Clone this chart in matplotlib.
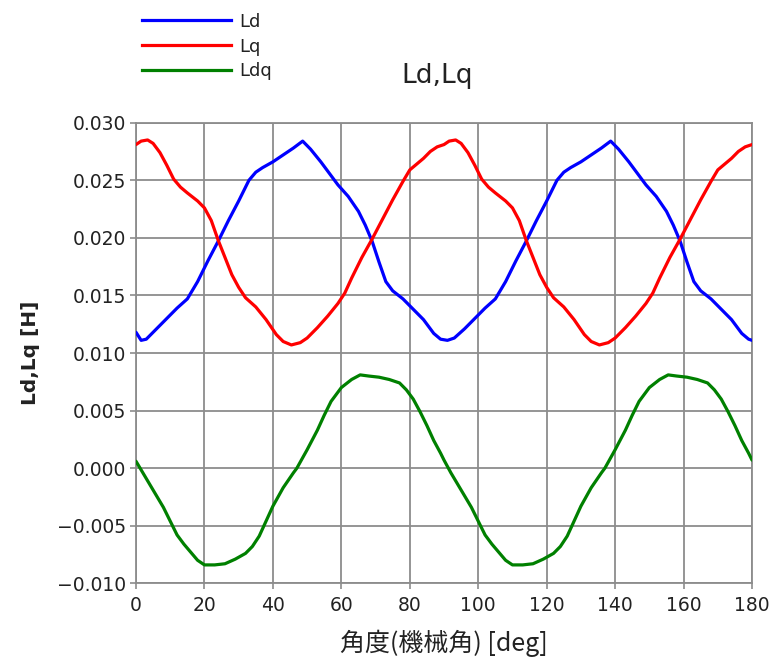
import matplotlib
matplotlib.use("Agg")
import matplotlib.pyplot as plt
from matplotlib.lines import Line2D

plt.rcParams['font.family'] = ['DejaVu Sans', 'Noto Sans CJK JP']

# ---- data ----
ld_deg = [0, 1.5, 3, 6, 9, 12, 15, 18, 21, 24, 27, 30, 33, 35, 37, 40, 43, 46, 48.7, 51, 54, 57, 59, 62,
          65, 67, 69, 71, 73, 75, 78, 81, 84, 87, 89,
          91, 93, 96, 99, 102, 105, 108, 111, 114, 117, 120, 123, 125, 127, 130, 133, 136, 138.7, 141,
          144, 147, 149, 152, 155, 157, 159, 161, 163, 165, 168, 171, 174, 177, 179, 180]
ld_val = [0.0118, 0.0111, 0.0112, 0.0121, 0.0130, 0.0139, 0.0147, 0.0162, 0.0180, 0.0197, 0.0215, 0.0232,
          0.0250, 0.0257, 0.0261, 0.0266, 0.0272, 0.0278, 0.0284, 0.0277, 0.0266, 0.0254, 0.0246, 0.0236,
          0.0223, 0.0211, 0.0197, 0.0179, 0.0162, 0.0154, 0.0147, 0.0138, 0.0129, 0.0117, 0.0112,
          0.0111, 0.0113, 0.0121, 0.0130, 0.0139, 0.0147, 0.0162, 0.0180, 0.0197, 0.0215, 0.0232, 0.0250,
          0.0257, 0.0261, 0.0266, 0.0272, 0.0278, 0.0284, 0.0277, 0.0266, 0.0254, 0.0246, 0.0236, 0.0223,
          0.0211, 0.0197, 0.0179, 0.0162, 0.0154, 0.0147, 0.0138, 0.0129, 0.0117, 0.0112, 0.0111]

lq_deg = [0, 1.5, 3.4, 5, 7, 9, 11, 13, 15, 18, 20, 22, 24, 26, 28, 30, 32, 35, 38, 41, 43, 45.4, 48, 50,
          53, 56, 59, 61, 63, 66, 69, 72, 75, 78, 80, 82, 84, 86, 88, 90,
          91.5, 93.4, 95, 97, 99, 101, 103, 105, 108, 110, 112, 114, 116, 118, 120, 122, 125, 128, 131,
          133, 135.4, 138, 140, 143, 146, 149, 151, 153, 156, 159, 162, 165, 168, 170, 172, 174, 176,
          178, 180]
lq_val = [0.0281, 0.0284, 0.0285, 0.0282, 0.0274, 0.0263, 0.0251, 0.0244, 0.0239, 0.0232, 0.0226, 0.0215,
          0.0198, 0.0183, 0.0168, 0.0157, 0.0148, 0.0140, 0.0129, 0.0116, 0.0110, 0.0107, 0.0109, 0.0113,
          0.0122, 0.0132, 0.0143, 0.0152, 0.0165, 0.0183, 0.0199, 0.0216, 0.0233, 0.0249, 0.0259, 0.0264,
          0.0269, 0.0275, 0.0279, 0.0281,
          0.0284, 0.0285, 0.0282, 0.0274, 0.0263, 0.0251, 0.0244, 0.0239, 0.0232, 0.0226, 0.0215, 0.0198,
          0.0183, 0.0168, 0.0157, 0.0148, 0.0140, 0.0129, 0.0116, 0.0110, 0.0107, 0.0109, 0.0113, 0.0122,
          0.0132, 0.0143, 0.0152, 0.0165, 0.0183, 0.0199, 0.0216, 0.0233, 0.0249, 0.0259, 0.0264, 0.0269,
          0.0275, 0.0279, 0.0281]

ldq_deg = [0, 2, 4, 6, 8, 10, 12, 14, 16, 18, 20, 23, 26, 29, 32, 34, 36, 38, 40, 43, 46, 47, 50, 53, 55,
           57, 60, 63, 65.5, 68, 71, 74, 77, 79, 81, 83, 85, 87, 89, 90,
           92, 94, 96, 98, 100, 102, 104, 106, 108, 110, 113, 116, 119, 122, 124, 126, 128, 130, 133, 136,
           137, 140, 143, 145, 147, 150, 153, 155.5, 158, 161, 164, 167, 169, 171, 173, 175, 177, 179, 180]
ldq_val = [0.0006, -0.0004, -0.0014, -0.0024, -0.0034, -0.0046, -0.0058, -0.0066, -0.0073, -0.0080,
           -0.0084, -0.0084, -0.0083, -0.0079, -0.0074, -0.0068, -0.0059, -0.0046, -0.0033, -0.0017,
           -0.0004, 0.0000, 0.0016, 0.0033, 0.0046, 0.0058, 0.0070, 0.0077, 0.0081, 0.0080, 0.0079,
           0.0077, 0.0074, 0.0068, 0.0060, 0.0049, 0.0037, 0.0024, 0.0013, 0.0007,
           -0.0004, -0.0014, -0.0024, -0.0034, -0.0046, -0.0058, -0.0066, -0.0073, -0.0080, -0.0084,
           -0.0084, -0.0083, -0.0079, -0.0074, -0.0068, -0.0059, -0.0046, -0.0033, -0.0017, -0.0004,
           0.0000, 0.0016, 0.0033, 0.0046, 0.0058, 0.0070, 0.0077, 0.0081, 0.0080, 0.0079, 0.0077,
           0.0074, 0.0068, 0.0060, 0.0049, 0.0037, 0.0024, 0.0013, 0.0007]

series_names = ["Ld", "Lq", "Ldq"]
series_colors = ["#0000ff", "#ff0000", "#008000"]
x_ticks = [0, 20, 40, 60, 80, 100, 120, 140, 160, 180]
y_ticks = [-0.010, -0.005, 0.000, 0.005, 0.010, 0.015, 0.020, 0.025, 0.030]

fig = plt.figure(figsize=(7.71, 6.61), dpi=100)
ax = fig.add_axes([0.1764, 0.1175, 0.7990, 0.6969])

grid_c = "#8c8c8c"
for xd, yd, c in zip([ld_deg, lq_deg, ldq_deg], [ld_val, lq_val, ldq_val], series_colors):
    ax.plot(xd, yd, color=c, lw=2.3, solid_joinstyle='round', solid_capstyle='round', zorder=3)

ax.set_xlim(0, 180)
ax.set_ylim(-0.010, 0.030)
ax.set_xticks(x_ticks)
ax.set_yticks(y_ticks)
ax.set_yticklabels([f"{v:.3f}".replace("-", "\u2212") for v in y_ticks])
ax.grid(True, color=grid_c, lw=1.3)
for s in ax.spines.values():
    s.set_color(grid_c)
    s.set_linewidth(1.3)
ax.tick_params(axis='both', colors=grid_c, labelcolor="#222222", labelsize=13.5, length=4, width=1.2)
ax.tick_params(axis='x', pad=5)
ax.tick_params(axis='y', pad=3)

ax.set_xlabel("角度(機械角) [deg]", fontsize=18, family=['Noto Sans CJK JP', 'DejaVu Sans'],
              color="#222222", labelpad=11)
ax.set_ylabel("Ld,Lq [H]", fontsize=14.5, fontweight='bold', color="#222222", labelpad=12)
fig.text(0.567, 0.885, "Ld,Lq", fontsize=19, color="#222222", ha='center', va='center')

handles = [Line2D([], [], color=c, lw=2.3) for c in series_colors]
fig.legend(handles, series_names, loc='upper left', bbox_to_anchor=(0.168, 1.0), frameon=False,
           fontsize=13, handlelength=4.9, handletextpad=0.5, labelspacing=0.38, borderpad=0.2,
           labelcolor="#222222")

fig.savefig("out.png", dpi=100)
